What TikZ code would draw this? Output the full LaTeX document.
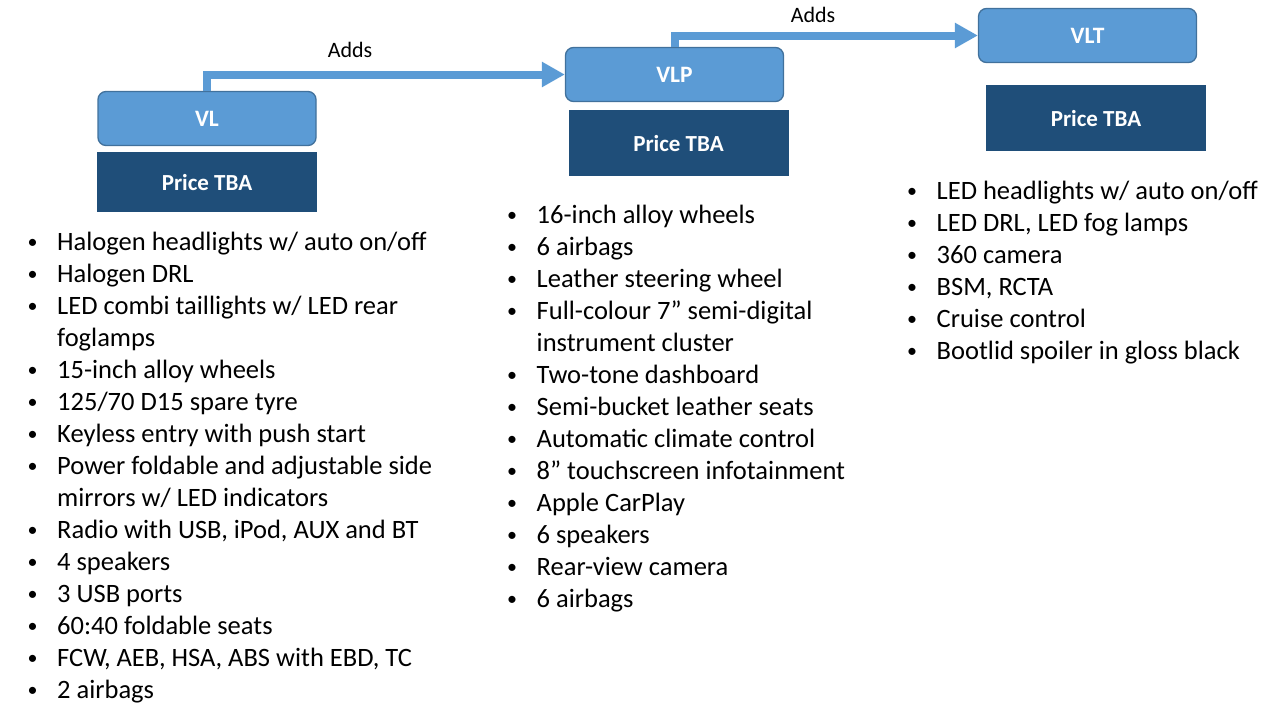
\documentclass[tikz,border=0pt]{standalone}
\usepackage{fontspec}
\setmainfont{Carlito}
\usetikzlibrary{arrows.meta,positioning}
\definecolor{lblue}{HTML}{5B9BD5}
\definecolor{bblue}{HTML}{41719C}
\definecolor{dblue}{HTML}{1F4E79}
\newcommand{\bl}{\makebox[31pt][l]{\hspace{1.5pt}\raisebox{1.8pt}{\fontsize{20}{20}\selectfont\textbullet}}}
\begin{document}
\begin{tikzpicture}[x=1pt,y=-1pt,
  trimbox/.style={draw=bblue,line width=1.3pt,fill=lblue,rounded corners=8pt,text=white,
    minimum width=218pt,minimum height=54pt,inner sep=0pt,font=\fontsize{23.5}{27}\selectfont\bfseries},
  pricebox/.style={fill=dblue,text=white,minimum width=220pt,minimum height=62pt,inner sep=0pt,
    font=\fontsize{23}{27}\selectfont\bfseries},
  adds/.style={draw=lblue,line width=8pt,-{Triangle[width=24pt,length=23pt]}},
  lbl/.style={font=\fontsize{22}{26}\selectfont},
  featlist/.style={anchor=base west,inner sep=0pt,font=\fontsize{26.5}{32}\selectfont}]
\useasboundingbox (0,0) rectangle (1280,720);
%
% trims
  \node[trimbox] (vl) at (207,118.5) {VL};
  \node[pricebox,below=6pt of vl,minimum height=60pt] (vlprice) {Price TBA};
  \node[trimbox] (vlp) at (674.5,74.5) {VLP};
  \node[pricebox,below=8pt of vlp,xshift=4pt,minimum height=66pt] (vlpprice) {Price TBA};
  \node[trimbox] (vlt) at (1087.5,35.5) {VLT};
  \node[pricebox,below=22pt of vlt,xshift=8.5pt,minimum height=66pt] (vltprice) {Price TBA};
%
% arrows
  \draw[adds] (vl.north) |- (vlp.west);
  \draw[adds] (vlp.north) |- (vlt.west);
  \node[lbl] (adds1) at (350,50) {Adds};
  \node[lbl] (adds2) at (813,15) {Adds};
%
% features
  \node[featlist] (vllist) at (26,250) {\begin{tabular}[t]{@{}l@{}l@{}}
    \bl & Halogen headlights w/ auto on/off\\
    \bl & Halogen DRL\\
    \bl & LED combi taillights w/ LED rear\\
        & foglamps\\
    \bl & 15-inch alloy wheels\\
    \bl & 125/70 D15 spare tyre\\
    \bl & Keyless entry with push start\\
    \bl & Power foldable and adjustable side\\
        & mirrors w/ LED indicators\\
    \bl & Radio with USB, iPod, AUX and BT\\
    \bl & 4 speakers\\
    \bl & 3 USB ports\\
    \bl & 60:40 foldable seats\\
    \bl & FCW, AEB, HSA, ABS with EBD, TC\\
    \bl & 2 airbags
  \end{tabular}};
  \node[featlist] (vlplist) at (505.5,223) {\begin{tabular}[t]{@{}l@{}l@{}}
    \bl & 16-inch alloy wheels\\
    \bl & 6 airbags\\
    \bl & Leather steering wheel\\
    \bl & Full-colour 7” semi-digital\\
        & instrument cluster\\
    \bl & Two-tone dashboard\\
    \bl & Semi-bucket leather seats\\
    \bl & Automatic climate control\\
    \bl & 8” touchscreen infotainment\\
    \bl & Apple CarPlay\\
    \bl & 6 speakers\\
    \bl & Rear-view camera\\
    \bl & 6 airbags
  \end{tabular}};
  \node[featlist] (vltlist) at (905.5,199) {\begin{tabular}[t]{@{}l@{}l@{}}
    \bl & LED headlights w/ auto on/off\\
    \bl & LED DRL, LED fog lamps\\
    \bl & 360 camera\\
    \bl & BSM, RCTA\\
    \bl & Cruise control\\
    \bl & Bootlid spoiler in gloss black
  \end{tabular}};
\end{tikzpicture}
\end{document}
